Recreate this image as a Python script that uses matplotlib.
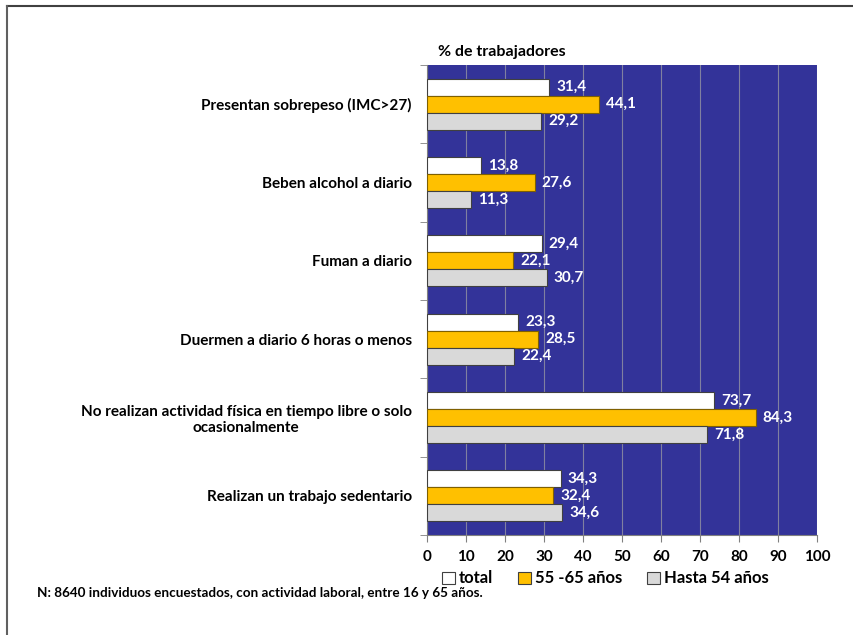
import matplotlib
matplotlib.use("Agg")
import matplotlib.pyplot as plt
from matplotlib.patches import Patch
import numpy as np

plt.rcParams['font.family'] = ['Lato', 'DejaVu Sans']
plt.rcParams['font.weight'] = 'bold'

categories = [
    "Presentan sobrepeso (IMC>27)",
    "Beben alcohol a diario",
    "Fuman a diario",
    "Duermen a diario 6 horas o menos",
    "No realizan actividad física en tiempo libre o solo\nocasionalmente",
    "Realizan un trabajo sedentario",
]
series_names = ["total", "55 -65 años", "Hasta 54 años"]
total = [31.4, 13.8, 29.4, 23.3, 73.7, 34.3]
age_55_65 = [44.1, 27.6, 22.1, 28.5, 84.3, 32.4]
upto_54 = [29.2, 11.3, 30.7, 22.4, 71.8, 34.6]

colors = ["#FFFFFF", "#FFC000", "#D9D9D9"]
edges = ["#404040", "#7F6000", "#404040"]

fig = plt.figure(figsize=(8.54, 6.35), dpi=100)
ax = fig.add_axes([0.5, 0.1575, 0.4567, 0.7401])
ax.set_facecolor("#333399")

y = np.arange(len(categories))
h = 0.217
for k, vals in enumerate([total, age_55_65, upto_54]):
    pos = y + (k - 1) * h
    ax.barh(pos, vals, height=h, color=colors[k], edgecolor=edges[k], linewidth=0.8, zorder=3)
    for p, v in zip(pos, vals):
        ax.text(v + 1.8, p, f"{v:.1f}".replace(".", ","), color="white", fontsize=11,
                fontweight="bold", va="center", ha="left", zorder=4)

ax.set_xlim(0, 100)
ax.set_ylim(len(categories) - 0.5, -0.5)
ax.set_xticks(range(0, 101, 10))
ax.grid(axis="x", color="#8080A0", linewidth=0.8, zorder=1)
ax.set_yticks(y)
ax.set_yticklabels(categories, fontsize=11, fontweight="bold", multialignment="center")
ax.set_yticks(np.arange(-0.5, len(categories)), minor=True)
ax.tick_params(axis="y", which="major", length=0, pad=11)
ax.tick_params(axis="y", which="minor", length=5, color="#808080")
ax.tick_params(axis="x", length=5, color="#808080", labelsize=11, pad=6)
for lab in ax.get_xticklabels():
    lab.set_fontweight("bold")
for s in ["top", "right"]:
    ax.spines[s].set_visible(False)
for s in ["left", "bottom"]:
    ax.spines[s].set_color("#808080")

ax.text(0.028, 1.012, "% de trabajadores", transform=ax.transAxes, fontsize=11.5,
        fontweight="bold", ha="left", va="bottom")

handles = [Patch(facecolor=colors[k], edgecolor="#404040", linewidth=0.8) for k in range(3)]
fig.legend(handles, series_names, loc="center", bbox_to_anchor=(0.709, 0.089), ncol=3,
           frameon=False, handlelength=0.75, handleheight=0.75,
           handletextpad=0.25, columnspacing=1.5, prop={"weight": "bold", "size": 12})

fig.text(0.043, 0.066, "N: 8640 individuos encuestados, con actividad laboral, entre 16 y 65 años.",
         fontsize=9.7, fontweight="bold", ha="left", va="center")

# frame lines like the original picture
fig.add_artist(plt.Line2D([0.008, 1.0], [0.99, 0.99], color="#404040", linewidth=1.5,
                          transform=fig.transFigure))
fig.add_artist(plt.Line2D([0.008, 0.008], [0.0, 0.99], color="#606060", linewidth=1.5,
                          transform=fig.transFigure))

fig.savefig("out.png", dpi=100)
